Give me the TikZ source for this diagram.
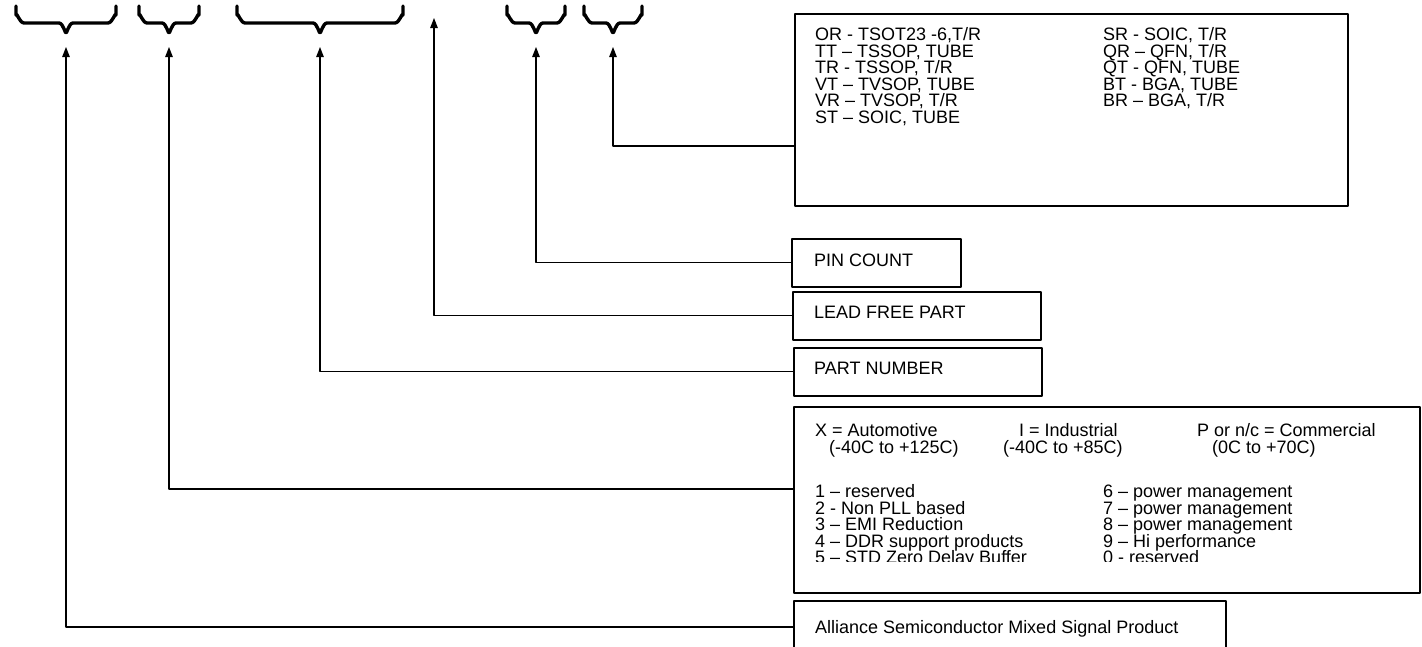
\documentclass[tikz,border=0pt]{standalone}
\usepackage{fontspec}
\setmainfont{Liberation Sans}
\usetikzlibrary{arrows.meta}

\begin{document}
\begin{tikzpicture}[x=1pt, y=-1pt, line join=round, >={Triangle[length=10pt,width=7.5pt]},
    box/.style={draw, line width=1.6pt, anchor=north west, inner sep=0pt},
    conn/.style={->, line width=1.2pt},
    ubrace/.style={line width=3.4pt, line cap=round},
    txt/.style={anchor=base west, inner sep=0pt, font=\fontsize{18}{16.6}\selectfont}]
  \useasboundingbox (0,0) rectangle (1422,646);
  \clip (0,0) rectangle (1422,646);

  % braces over the fields of the part number
  \foreach \a/\b in {16/116, 139/199, 237/403, 507/565, 584/642} {
    \pgfmathsetmacro{\c}{(\a+\b)/2}
    \draw[ubrace] (\a,6) -- (\a,15) to[out=90,in=180] ({\a+8},23) -- ({\c-7},23)
      to[out=0,in=-90] (\c,32) to[out=-90,in=180] ({\c+7},23) -- ({\b-8},23)
      to[out=0,in=90] (\b,15) -- (\b,6);
  }

  \coordinate (prodtip) at (66,47);
  \coordinate (gradetip) at (169,47);
  \coordinate (numtip) at (320,47);
  \coordinate (leadtip) at (434,18);
  \coordinate (pintip) at (536,47);
  \coordinate (pkgtip) at (613,47);

  % boxes
  \node[box, minimum width=553, minimum height=192] (pkgbox) at (794,13) {};
  \node[box, minimum width=169, minimum height=48] (pinbox) at (791,238) {};
  \node[box, minimum width=248, minimum height=48] (leadbox) at (792,291) {};
  \node[box, minimum width=248, minimum height=48] (numbox) at (793,347) {};
  \node[box, minimum width=626, minimum height=186] (gradebox) at (793,406) {};
  \node[box, minimum width=432, minimum height=90] (prodbox) at (793,600) {};

  % package codes
  \foreach \t [count=\i] in {{OR - TSOT23 -6,T/R}, {TT – TSSOP, TUBE}, {TR - TSSOP, T/R},
      {VT – TVSOP, TUBE}, {VR – TVSOP, T/R}, {ST – SOIC, TUBE}}
    \node[txt] (pkgl\i) at (815,{40.5+16.6*(\i-1)}) {\t};
  \foreach \t [count=\i] in {{SR - SOIC, T/R}, {QR – QFN, T/R}, {QT - QFN, TUBE},
      {BT - BGA, TUBE}, {BR – BGA, T/R}}
    \node[txt] (pkgr\i) at (1103,{40.5+16.6*(\i-1)}) {\t};

  \node[txt] (pintxt) at (814,266.5) {PIN COUNT};
  \node[txt] (leadtxt) at (814,318.5) {LEAD FREE PART};
  \node[txt] (numtxt) at (814,374.5) {PART NUMBER};

  % temperature grades
  \node[txt] (autotxt) at (815,436.5) {X = Automotive};
  \node[txt] (indtxt) at (1019,436.5) {I = Industrial};
  \node[txt] (comtxt) at (1197,436.5) {P or n/c = Commercial};
  \node[txt] (autorng) at (829,453) {(-40C to +125C)};
  \node[txt] (indrng) at (1003,453) {(-40C to +85C)};
  \node[txt] (comrng) at (1212,453) {(0C to +70C)};

  % product families, cut off at the foot of the box
  \begin{scope}
    \clip (793,406) rectangle (1419,561);
    \foreach \t [count=\i] in {{1 – reserved}, {2 - Non PLL based}, {3 – EMI Reduction},
        {4 – DDR support products}, {5 – STD Zero Delay Buffer}}
      \node[txt] (faml\i) at (815,{497.5+16.5*(\i-1)}) {\t};
    \foreach \t [count=\i] in {{6 – power management}, {7 – power management},
        {8 – power management}, {9 – Hi performance}, {0 - reserved}}
      \node[txt] (famr\i) at (1103,{497.5+16.5*(\i-1)}) {\t};
  \end{scope}

  \node[txt] (prodtxt) at (815,633.5) {Alliance Semiconductor Mixed Signal Product};

  % connectors
  \coordinate (pkgbend) at (613,146);
  \coordinate (gradebend) at (169,489);
  \coordinate (prodbend) at (66,627);
  \draw[conn] (pkgbox.west |- pkgbend) -| (pkgtip);
  \draw[conn] (pinbox.west) -| (pintip);
  \draw[conn] (leadbox.west) -| (leadtip);
  \draw[conn] (numbox.west) -| (numtip);
  \draw[conn] (gradebox.west |- gradebend) -| (gradetip);
  \draw[conn] (prodbox.west |- prodbend) -| (prodtip);
\end{tikzpicture}
\end{document}
